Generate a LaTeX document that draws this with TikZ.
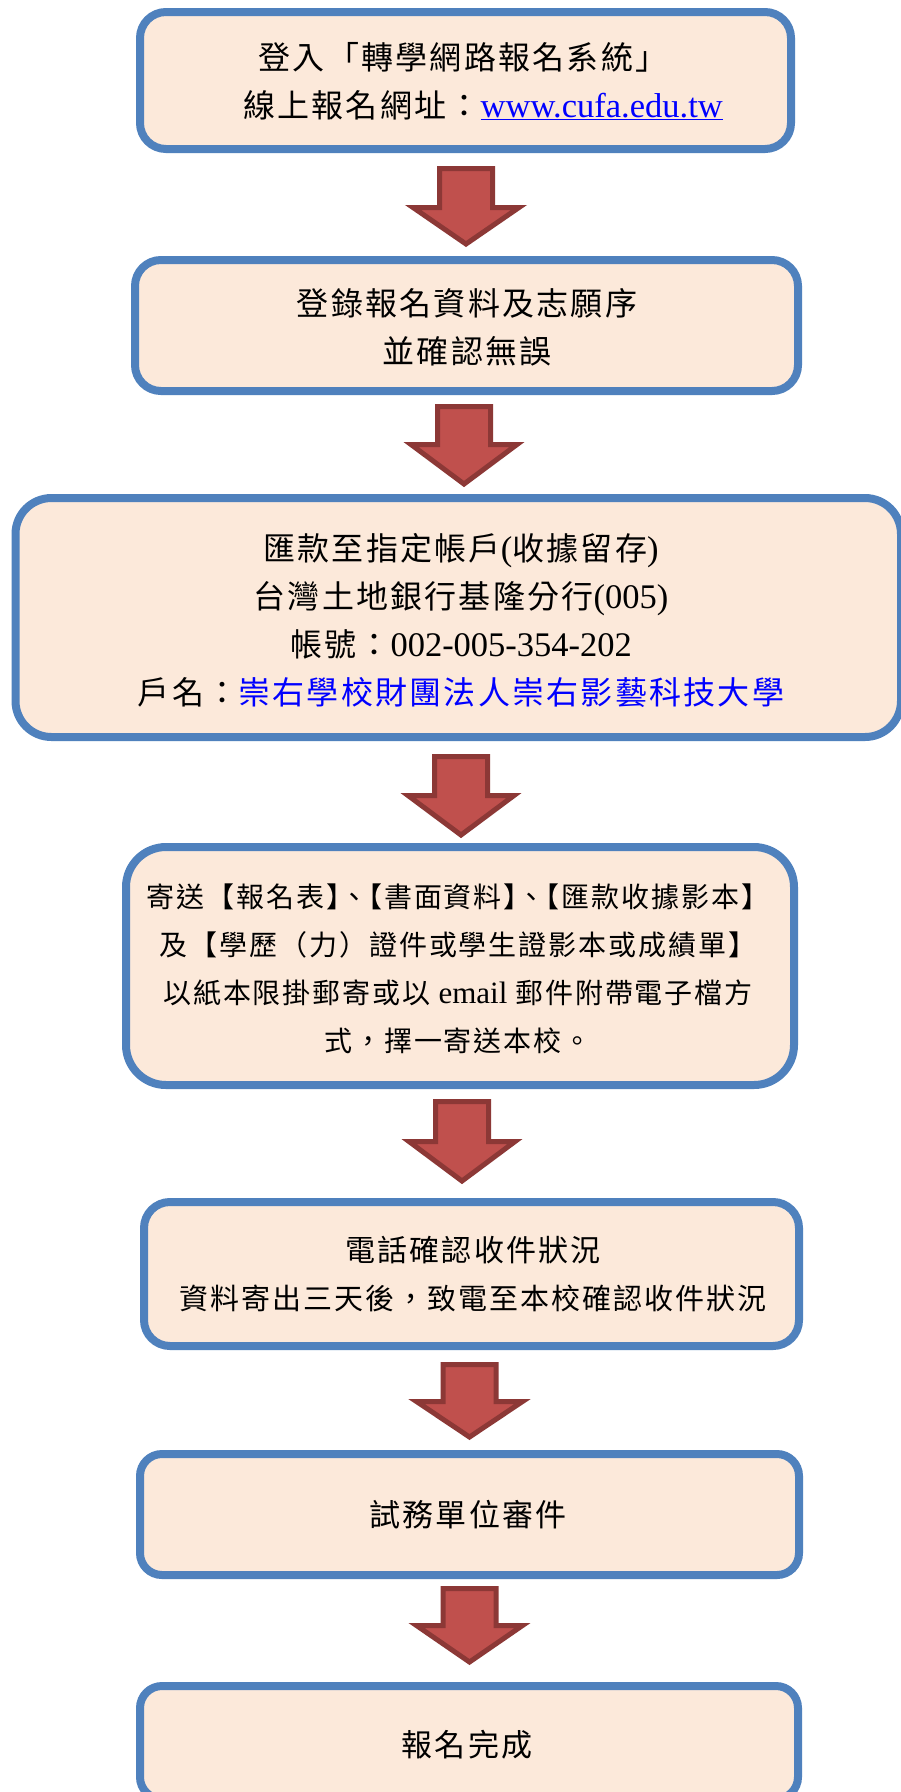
\documentclass[tikz,border=0pt]{standalone}
\usepackage{fontspec}
\setmainfont{Noto Sans CJK TC}[LetterSpace=7]
\newfontfamily\lat{Liberation Serif}
\definecolor{boxblue}{HTML}{4F81BD}
\definecolor{boxfill}{HTML}{FCE9DA}
\definecolor{arrowfill}{HTML}{C0504D}
\definecolor{arrowline}{HTML}{8C3836}
\definecolor{linkblue}{HTML}{0000FF}
\tikzset{
  flowbox/.style={draw=boxblue, fill=boxfill, line width=8pt, rounded corners=#1, inner sep=0pt, rectangle},
  flowbox/.default=26pt,
  blockarrow/.style={draw=arrowline, fill=arrowfill, line width=5pt, line join=miter},
  labeltext/.style={align=center, inner sep=0pt, text=black}
}
\newcommand\latbig{\lat\fontsize{34.5}{48}\selectfont}
\newcommand\flowarrow[4]{%
  \draw[blockarrow] ({#1-26.5},#2) -- ({#1+26.5},#2) -- ({#1+26.5},#3) -- ({#1+53},#3)
    -- (#1,#4) -- ({#1-53},#3) -- ({#1-26.5},#3) -- cycle;}
\begin{document}
\begin{tikzpicture}[x=1pt,y=-1pt]
\fill[white] (0,0) rectangle (901,1792);
\clip (0,0) rectangle (901,1792);
% boxes
\node[flowbox=26pt, minimum width=651pt, minimum height=137pt] (b1) at (465.5,80.5) {};
\node[flowbox=26pt, minimum width=663pt, minimum height=131pt] (b2) at (466.5,325.5) {};
\node[flowbox=36pt, minimum width=885.5pt, minimum height=239pt] (b3) at (458.25,617.5) {};
\node[flowbox=40pt, minimum width=668pt, minimum height=238pt] (b4) at (460,966) {};
\node[flowbox=26pt, minimum width=655pt, minimum height=144pt] (b5) at (471.5,1274) {};
\node[flowbox=22pt, minimum width=659pt, minimum height=121pt] (b6) at (469.5,1514.5) {};
\node[flowbox=22pt, minimum width=658pt, minimum height=113pt] (b7) at (469,1742.5) {};
% arrows
\flowarrow{466}{168.5}{207.5}{244}
\flowarrow{464}{406.5}{444.5}{484}
\flowarrow{461}{756.5}{795.5}{835}
\flowarrow{462}{1101.5}{1141.5}{1181}
\flowarrow{469.5}{1364.5}{1401.5}{1437}
\flowarrow{469.5}{1588.5}{1625.5}{1662}
% texts
\node[labeltext, font=\fontsize{32}{48}\selectfont] (t1) at (463,81)
  {登入「轉學網路報名系統」\\\hspace*{40pt}線上報名網址：{\latbig\color{linkblue}\underline{www.cufa.edu.tw}}};
\node[labeltext, font=\fontsize{32}{48}\selectfont] (t2) at (467,327)
  {登錄報名資料及志願序\\並確認無誤};
\node[labeltext, font=\fontsize{32}{48}\selectfont] (t3) at (461,620)
  {匯款至指定帳戶{\latbig(}收據留存{\latbig)}\\台灣土地銀行基隆分行{\latbig(005)}\\帳號：{\latbig 002-005-354-202}\\戶名：\textcolor{linkblue}{崇右學校財團法人崇右影藝科技大學}};
\node[labeltext, font=\fontsize{28}{48}\selectfont] (t4) at (458,968.5)
  {寄送【報名表】\kern-14pt、\kern-14pt【書面資料】\kern-14pt、\kern-14pt【匯款收據影本】\\及【學歷（力）證件或學生證影本或成績單】\\以紙本限掛郵寄或以{\lat\fontsize{31}{48}\selectfont\ email }郵件附帶電子檔方\\式，擇一寄送本校。};
\node[labeltext, font=\fontsize{29}{48}\selectfont] (t5) at (473,1274)
  {{\fontsize{30}{48}\selectfont 電話確認收件狀況}\\資料寄出三天後，致電至本校確認收件狀況};
\node[labeltext, font=\fontsize{31}{48}\selectfont] (t6) at (468,1515) {試務單位審件};
\node[labeltext, font=\fontsize{31}{48}\selectfont] (t7) at (467,1745) {報名完成};
\end{tikzpicture}
\end{document}
